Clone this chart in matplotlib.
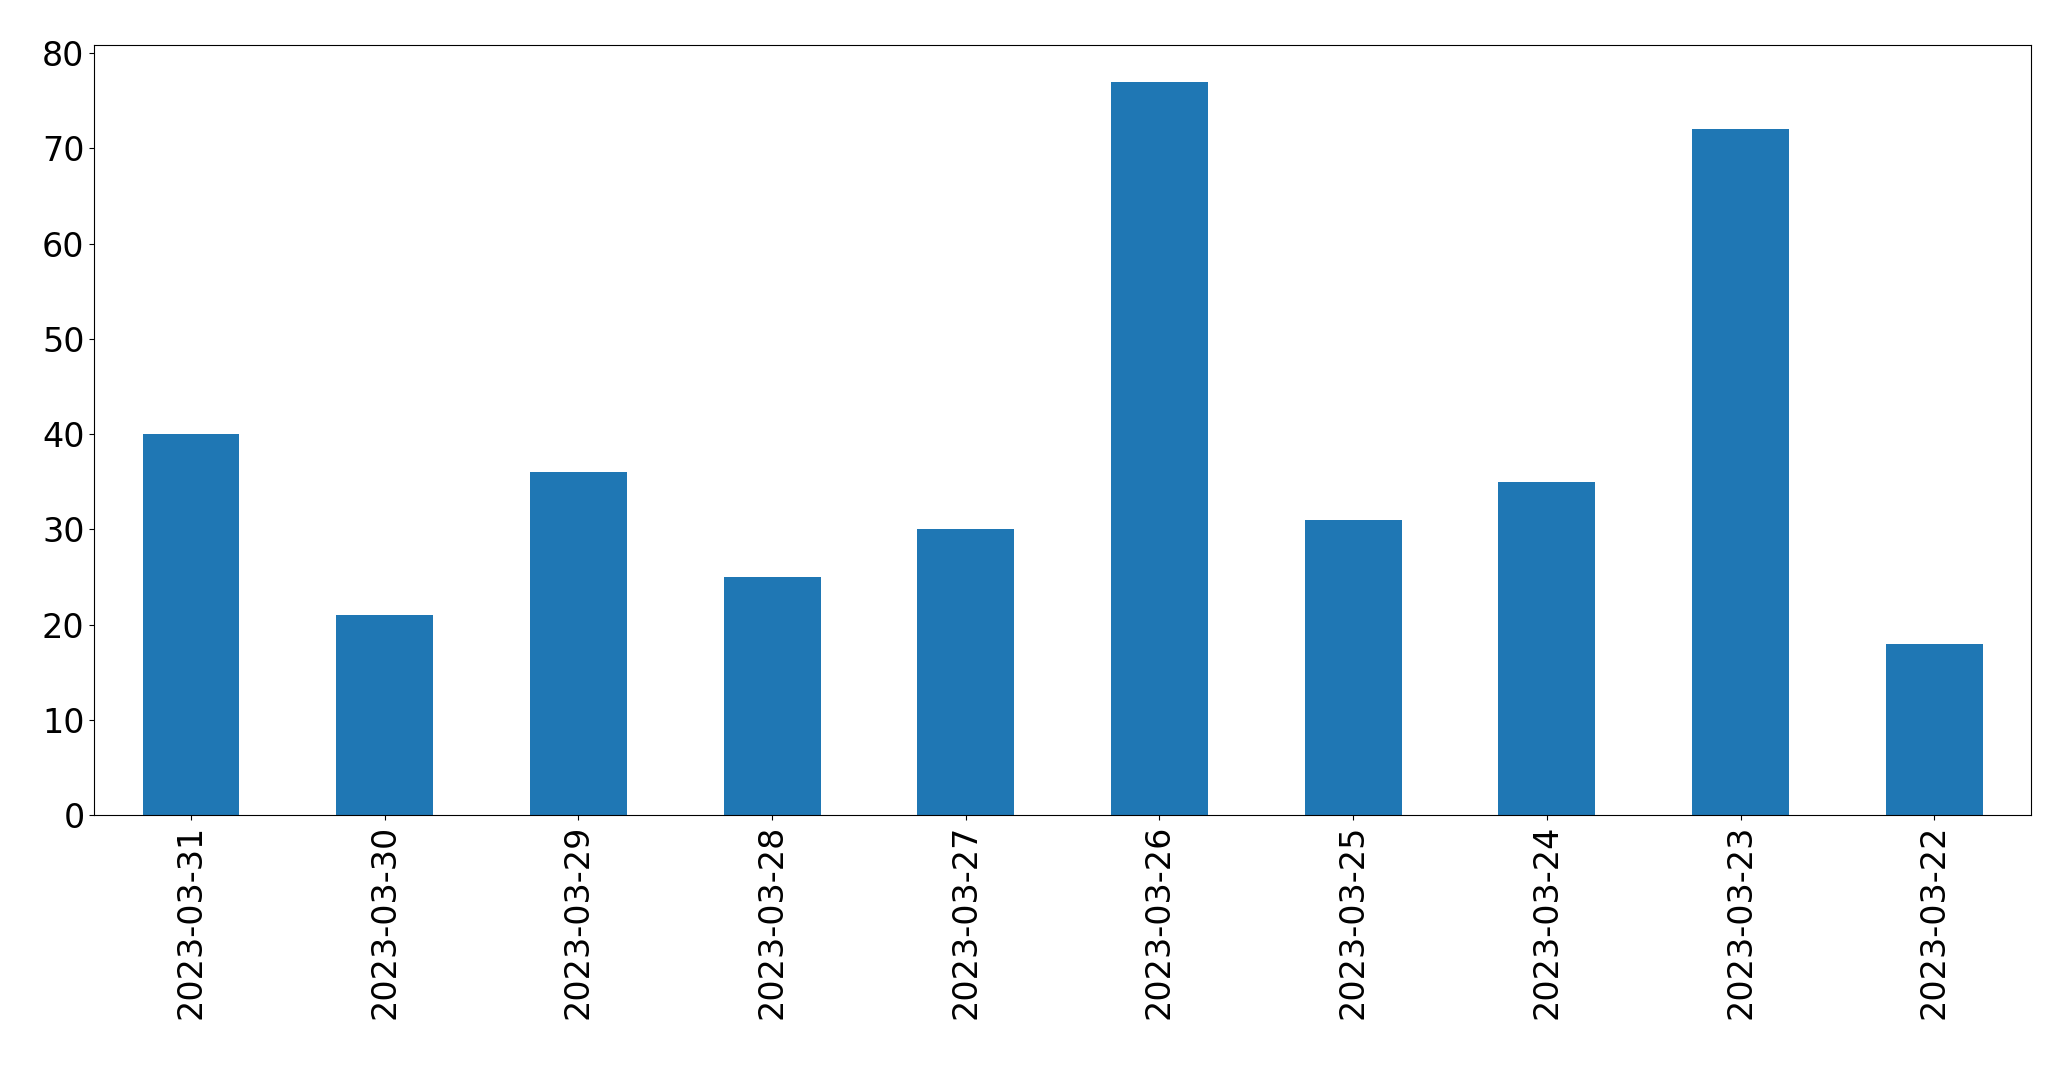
import pandas as pd
from matplotlib import pyplot as plt

# 每天的计数（从新到旧）
dates = ['2023-03-31', '2023-03-30', '2023-03-29', '2023-03-28', '2023-03-27',
         '2023-03-26', '2023-03-25', '2023-03-24', '2023-03-23', '2023-03-22']
counts = [40, 21, 36, 25, 30, 77, 31, 35, 72, 18]

series = pd.Series(counts, index=dates)

fig = plt.figure(figsize=(20.71, 10.67), dpi=100)
ax = fig.add_subplot(111)
series.plot.bar(ax=ax, fontsize=24)
fig.subplots_adjust(left=0.0455, right=0.9807, top=0.9578, bottom=0.2362)
fig.savefig('out.png', dpi=100)
